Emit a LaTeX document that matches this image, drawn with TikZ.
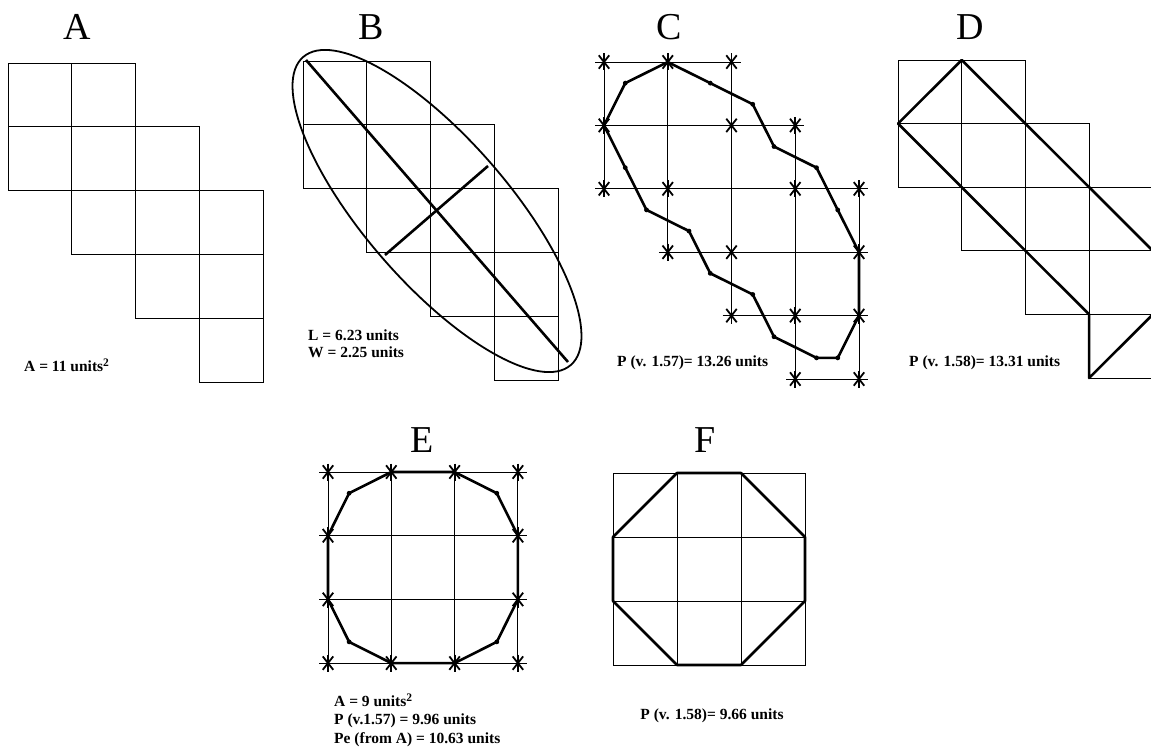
\documentclass[tikz,border=0pt]{standalone}
\usepackage{fontspec}
\setmainfont{Liberation Serif}

% Celdas de la figura escalonada (11 cuadros)
\newcommand{\escalera}{%
  \foreach \c/\r in {0/0,1/0,0/1,1/1,2/1,1/2,2/2,3/2,2/3,3/3,3/4}
    \draw[rejilla] (\c,\r) rectangle ++(1,1);}
% Asterisco en un vertice
\newcommand{\aster}[2]{%
  \draw[rejilla] (#1,#2) ++(-9pt,0) -- ++(18pt,0);
  \foreach \ang in {52,90,128}
    \draw[line width=1.8pt] (#1,#2) ++(\ang:8.5pt) -- ++(\ang+180:17pt);}
% Exponente 2
\newcommand{\cuad}{\raisebox{4.5pt}{\fontsize{11.5}{11.5}\selectfont 2}}

\begin{document}
\begin{tikzpicture}[x=1pt, y=-1pt,
    rejilla/.style={line width=0.9pt},
    contorno/.style={line width=2.6pt, line join=round},
    punto/.style={fill=black},
    titulo/.style={font=\fontsize{38}{38}\selectfont, inner sep=0pt, anchor=base},
    dato/.style={font=\fontsize{15.5}{15.5}\selectfont\bfseries, inner sep=0pt, anchor=base west}]

    \useasboundingbox (0,0) rectangle (1151,749);

    % A: area
    \begin{scope}[shift={(8,63)}, x=63.8pt, y=-63.8pt]
        \escalera
    \end{scope}
    \node[titulo] (tituloA) at (77,40) {A};
    \node[dato] (areaA) at (24,371) {A = 11 units\cuad};

    % B: elipse con ejes
    \begin{scope}[shift={(303,61)}, x=63.8pt, y=-63.8pt]
        \escalera
    \end{scope}
    \draw[line width=1.8pt, rotate around={-49:(437,211)}] (437,211) ellipse [x radius=204, y radius=72];
    \draw[contorno] (306,60) -- (568,362); % eje mayor
    \draw[contorno] (385,255) -- (488,166); % eje menor
    \node[titulo] (tituloB) at (371,40) {B};
    \node[dato] (largoB) at (308,340) {L = 6.23 units};
    \node[dato] (anchoB) at (308,357) {W = 2.25 units};

    % C: perimetro v. 1.57
    \begin{scope}[shift={(604,62)}, x=63.75pt, y=-63.4pt]
        \escalera
        \foreach \c/\r in {0/0,1/0,2/0,0/1,2/1,3/1,0/2,1/2,3/2,4/2,1/3,2/3,4/3,2/4,3/4,4/4,3/5,4/5}
            \aster{\c}{\r};
        \draw[contorno] (1,0) -- (5/3,1/3) -- (7/3,2/3) -- (8/3,4/3) -- (10/3,5/3) -- (11/3,7/3)
            -- (4,3) -- (4,4) -- (11/3,14/3) -- (10/3,14/3) -- (8/3,13/3) -- (7/3,11/3)
            -- (5/3,10/3) -- (4/3,8/3) -- (2/3,7/3) -- (1/3,5/3) -- (0,1) -- (1/3,1/3) -- cycle;
        \foreach \c/\r in {5/1,7/2,8/4,10/5,11/7,11/14,10/14,8/13,7/11,5/10,4/8,2/7,1/5,1/1}
            \fill[punto] (\c/3,\r/3) circle (2.4pt);
    \end{scope}
    \node[titulo] (tituloC) at (669,40) {C};
    \node[dato] (perimC) at (617,366) {P (v. 1.57)= 13.26 units};

    % D: perimetro v. 1.58
    \begin{scope}[shift={(898,60)}, x=63.7pt, y=-63.6pt]
        \escalera
        \draw[contorno] (1,0) -- (4,3) -- (4,4) -- (3,5) -- (3,4) -- (0,1) -- cycle;
    \end{scope}
    \node[titulo] (tituloD) at (970,40) {D};
    \node[dato] (perimD) at (909,366) {P (v. 1.58)= 13.31 units};

    % E: cuadrado 3x3, v. 1.57
    \begin{scope}[shift={(328,472)}, x=63.3pt, y=-63.7pt]
        \foreach \c in {0,1,2}
            \foreach \r in {0,1,2}
                \draw[rejilla] (\c,\r) rectangle ++(1,1);
        \foreach \c/\r in {0/0,1/0,2/0,3/0,0/1,3/1,0/2,3/2,0/3,1/3,2/3,3/3}
            \aster{\c}{\r};
        \draw[contorno] (1,0) -- (2,0) -- (8/3,1/3) -- (3,1) -- (3,2) -- (8/3,8/3) -- (2,3)
            -- (1,3) -- (1/3,8/3) -- (0,2) -- (0,1) -- (1/3,1/3) -- cycle;
        \foreach \c/\r in {8/1,8/8,1/8,1/1}
            \fill[punto] (\c/3,\r/3) circle (2.4pt);
    \end{scope}
    \node[titulo] (tituloE) at (422,452) {E};
    \node[dato] (areaE) at (334,706) {A = 9 units\cuad};
    \node[dato] (perimE) at (334,724) {P (v.1.57) = 9.96 units};
    \node[dato] (perimAE) at (334,743) {Pe (from A) = 10.63 units};

    % F: octagono, v. 1.58
    \begin{scope}[shift={(613,473)}, x=64pt, y=-64pt]
        \foreach \c in {0,1,2}
            \foreach \r in {0,1,2}
                \draw[rejilla] (\c,\r) rectangle ++(1,1);
        \draw[contorno] (1,0) -- (2,0) -- (3,1) -- (3,2) -- (2,3) -- (1,3) -- (0,2) -- (0,1) -- cycle;
    \end{scope}
    \node[titulo] (tituloF) at (705,452) {F};
    \node[dato, anchor=base] (perimF) at (712,719) {P (v. 1.58)= 9.66 units};
\end{tikzpicture}
\end{document}
